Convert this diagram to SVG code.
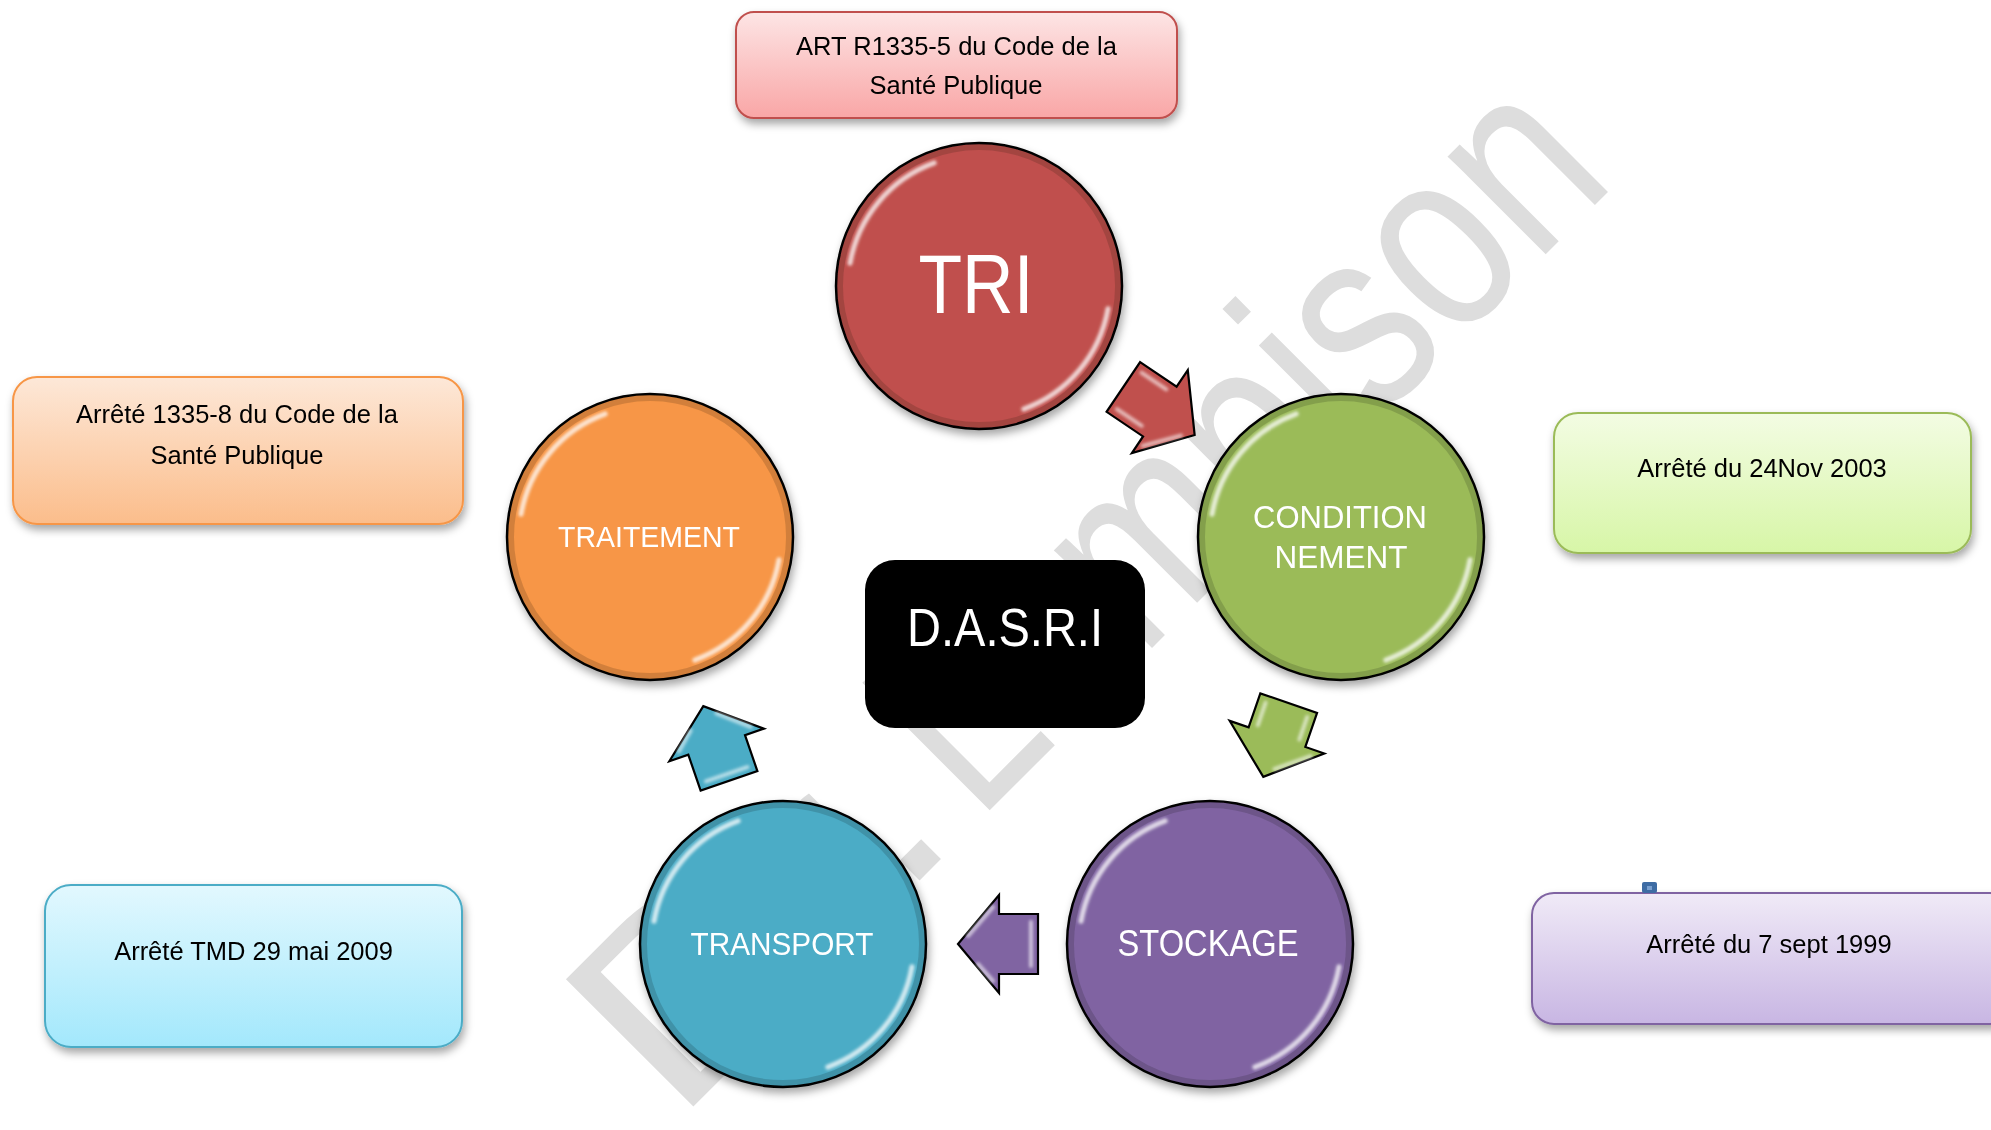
<svg xmlns="http://www.w3.org/2000/svg" width="1991" height="1130" viewBox="0 0 1991 1130">
<style>
.bt{font-family:"Liberation Sans",Arial,sans-serif;font-size:25.5px;fill:#000;text-anchor:middle}
.ct{font-family:"Liberation Sans",Arial,sans-serif;fill:#fff;text-anchor:middle}
.ring{stroke:#000;stroke-width:2.5}
.hl{fill:none;stroke:#fff;stroke-width:5;stroke-linecap:round;stroke-opacity:0.75}
.arw{stroke:#000;stroke-width:2.2;stroke-linejoin:miter}
.ahl{fill:none;stroke:#fff;stroke-width:4;stroke-linecap:round;stroke-opacity:0.6}
.wm{font-family:"Liberation Sans",Arial,sans-serif;fill:#dddddd;font-size:262px}
</style>
<defs>
<filter id="sh" x="-20%" y="-20%" width="140%" height="150%">
<feDropShadow dx="2" dy="5" stdDeviation="4" flood-color="#000" flood-opacity="0.35"/>
</filter>
<filter id="blur" x="-20%" y="-20%" width="140%" height="140%"><feGaussianBlur stdDeviation="1.4"/></filter>
<linearGradient id="gRed" x1="0" y1="0" x2="0" y2="1"><stop offset="0" stop-color="#fde5e5"/><stop offset="1" stop-color="#f9a6a6"/></linearGradient>
<linearGradient id="gOr" x1="0" y1="0" x2="0" y2="1"><stop offset="0" stop-color="#fde8d8"/><stop offset="1" stop-color="#fbbd8b"/></linearGradient>
<linearGradient id="gGr" x1="0" y1="0" x2="0" y2="1"><stop offset="0" stop-color="#f3fce3"/><stop offset="1" stop-color="#d7f6a7"/></linearGradient>
<linearGradient id="gPu" x1="0" y1="0" x2="0" y2="1"><stop offset="0" stop-color="#f0eaf7"/><stop offset="1" stop-color="#c8b6e3"/></linearGradient>
<linearGradient id="gBl" x1="0" y1="0" x2="0" y2="1"><stop offset="0" stop-color="#e2f8fe"/><stop offset="1" stop-color="#a3e8fc"/></linearGradient>
<g id="gloss">
<circle r="139" fill="none" stroke="#000" stroke-opacity="0.15" stroke-width="6"/>
<g filter="url(#blur)">
<path class="hl" d="M-129,-22.8 A131,131 0 0 1 -44.8,-123.1"/>
<path class="hl" d="M129,22.8 A131,131 0 0 1 44.8,123.1"/>
</g>
</g>
</defs>
<rect width="1991" height="1130" fill="#fff"/>

<g id="watermark" transform="translate(675,1125) rotate(-45)">
<text class="wm" x="0" y="0" textLength="405" lengthAdjust="spacingAndGlyphs">Dr.</text>
<text class="wm" x="428" y="0" textLength="905" lengthAdjust="spacingAndGlyphs">Lumbison</text>
</g>

<g id="box-tri-ref" filter="url(#sh)">
<rect x="736" y="12" width="441" height="106" rx="18" fill="url(#gRed)" stroke="#c0504d" stroke-width="2"/>
<text class="bt" x="956.5" y="55">ART R1335-5 du Code de la</text>
<text class="bt" x="956" y="94">Santé Publique</text>
</g>
<g id="box-traitement-ref" filter="url(#sh)">
<rect x="13" y="377" width="450" height="147" rx="24" fill="url(#gOr)" stroke="#f79646" stroke-width="2"/>
<text class="bt" x="237" y="423">Arrêté 1335-8 du Code de la</text>
<text class="bt" x="237" y="464">Santé Publique</text>
</g>
<g id="box-conditionnement-ref" filter="url(#sh)">
<rect x="1554" y="413" width="417" height="140" rx="24" fill="url(#gGr)" stroke="#9bbb59" stroke-width="2"/>
<text class="bt" x="1762" y="477">Arrêté du 24Nov 2003</text>
</g>
<g id="box-stockage-ref" filter="url(#sh)">
<rect x="1532" y="893" width="480" height="131" rx="22" fill="url(#gPu)" stroke="#8064a2" stroke-width="2"/>
<text class="bt" x="1769" y="953">Arrêté du 7 sept 1999</text>
</g>
<rect x="1642" y="882" width="15" height="11" rx="2" fill="#3e6ca4"/>
<rect x="1647" y="886" width="5" height="4" fill="#7aa0d0"/>
<g id="box-transport-ref" filter="url(#sh)">
<rect x="45" y="885" width="417" height="162" rx="26" fill="url(#gBl)" stroke="#4bacc6" stroke-width="2"/>
<text class="bt" x="253.5" y="960">Arrêté TMD 29 mai 2009</text>
</g>

<g id="connectors">
<g id="arrow-tri-cond" transform="translate(1159,411) rotate(34)">
<polygon class="arw" fill="#c0504d" points="-43,-30 1,-30 1,-50 43,0 1,50 1,30 -43,30"/>
<path class="ahl" filter="url(#blur)" d="M-36,-22 L-6,-22 M-36,22 L-6,22 M6,38 L32,8"/>
</g>
<g id="arrow-cond-stock" transform="translate(1276,740) rotate(109)">
<polygon class="arw" fill="#9bbb59" points="-39,-30 -3,-30 -3,-50 39,0 -3,50 -3,30 -39,30"/>
<path class="ahl" filter="url(#blur)" d="M-32,-22 L-8,-22 M-32,22 L-8,22 M4,-38 L28,-8"/>
</g>
<g id="arrow-stock-trans" transform="translate(998,944) rotate(180)">
<polygon class="arw" fill="#8064a2" points="-40,-30 -1,-30 -1,-49 40,0 -1,49 -1,30 -40,30"/>
<path class="ahl" filter="url(#blur)" d="M-33,-22 L-33,22 M5,37 L30,8 M5,-37 L20,-20"/>
</g>
<g id="arrow-trans-trait" transform="translate(716,743) rotate(-109)">
<polygon class="arw" fill="#4bacc6" points="-40,-30 -2,-30 -2,-50 39,0 -2,50 -2,30 -40,30"/>
<path class="ahl" filter="url(#blur)" d="M-33,-22 L-33,22 M4,38 L28,10 M4,-38 L20,-20"/>
</g>
</g>

<g id="node-tri" filter="url(#sh)">
<circle class="ring" cx="979" cy="286" r="143" fill="#c0504d"/>
<use href="#gloss" transform="translate(979,286)"/>
<text class="ct" x="976" y="313" font-size="84" textLength="115" lengthAdjust="spacingAndGlyphs">TRI</text>
</g>
<g id="node-conditionnement" filter="url(#sh)">
<circle class="ring" cx="1341" cy="537" r="143" fill="#9bbb59"/>
<use href="#gloss" transform="translate(1341,537)"/>
<text class="ct" x="1340" y="528" font-size="32" textLength="174" lengthAdjust="spacingAndGlyphs">CONDITION</text>
<text class="ct" x="1341" y="568" font-size="32" textLength="133" lengthAdjust="spacingAndGlyphs">NEMENT</text>
</g>
<g id="node-stockage" filter="url(#sh)">
<circle class="ring" cx="1210" cy="944" r="143" fill="#8064a2"/>
<use href="#gloss" transform="translate(1210,944)"/>
<text class="ct" x="1208" y="956" font-size="36" textLength="181" lengthAdjust="spacingAndGlyphs">STOCKAGE</text>
</g>
<g id="node-transport" filter="url(#sh)">
<circle class="ring" cx="783" cy="944" r="143" fill="#4bacc6"/>
<use href="#gloss" transform="translate(783,944)"/>
<text class="ct" x="782" y="955" font-size="32" textLength="183" lengthAdjust="spacingAndGlyphs">TRANSPORT</text>
</g>
<g id="node-traitement" filter="url(#sh)">
<circle class="ring" cx="650" cy="537" r="143" fill="#f79646"/>
<use href="#gloss" transform="translate(650,537)"/>
<text class="ct" x="649" y="547" font-size="29" textLength="182" lengthAdjust="spacingAndGlyphs">TRAITEMENT</text>
</g>
<g id="node-dasri">
<rect x="865" y="560" width="280" height="168" rx="30" fill="#000"/>
<text class="ct" x="1005" y="646" font-size="53" textLength="196" lengthAdjust="spacingAndGlyphs">D.A.S.R.I</text>
</g>
</svg>
